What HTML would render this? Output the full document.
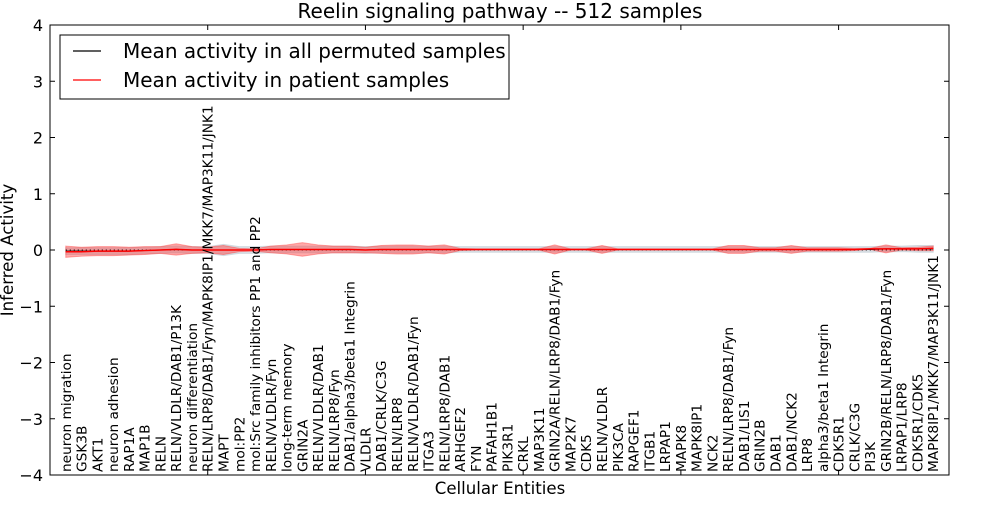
<!DOCTYPE html>
<html><head><meta charset="utf-8"><style>
body{margin:0;background:#fff;font-family:"Liberation Sans","DejaVu Sans",sans-serif}
</style></head><body>
<svg id="chart" width="1000" height="500" xmlns="http://www.w3.org/2000/svg" font-family="DejaVu Sans, Liberation Sans, sans-serif"></svg>
<script>
const categories=["neuron migration","GSK3B","AKT1","neuron adhesion","RAP1A","MAP1B","RELN","RELN/VLDLR/DAB1/P13K","neuron differentiation","RELN/LRP8/DAB1/Fyn/MAPK8IP1/MKK7/MAP3K11/JNK1","MAPT","mol:PP2","mol:Src family inhibitors PP1 and PP2","RELN/VLDLR/Fyn","long-term memory","GRIN2A","RELN/VLDLR/DAB1","RELN/LRP8/Fyn","DAB1/alpha3/beta1 Integrin","VLDLR","DAB1/CRLK/C3G","RELN/LRP8","RELN/VLDLR/DAB1/Fyn","ITGA3","RELN/LRP8/DAB1","ARHGEF2","FYN","PAFAH1B1","PIK3R1","CRKL","MAP3K11","GRIN2A/RELN/LRP8/DAB1/Fyn","MAP2K7","CDK5","RELN/VLDLR","PIK3CA","RAPGEF1","ITGB1","LRPAP1","MAPK8","MAPK8IP1","NCK2","RELN/LRP8/DAB1/Fyn","DAB1/LIS1","GRIN2B","DAB1","DAB1/NCK2","LRP8","alpha3/beta1 Integrin","CDK5R1","CRLK/C3G","PI3K","GRIN2B/RELN/LRP8/DAB1/Fyn","LRPAP1/LRP8","CDK5R1/CDK5","MAPK8IP1/MKK7/MAP3K11/JNK1"];
const patientMean=[-0.03,-0.03,-0.02,-0.02,-0.02,-0.01,0.0,0.01,0.0,0.0,0.0,0.0,0.0,0.01,0.01,0.01,0.01,0.01,0.01,0.0,0.01,0.01,0.01,0.01,0.01,0.01,0.01,0.01,0.01,0.01,0.01,0.01,0.01,0.01,0.01,0.01,0.01,0.01,0.01,0.01,0.01,0.01,0.01,0.01,0.01,0.01,0.01,0.01,0.01,0.01,0.01,0.02,0.02,0.02,0.02,0.03];
const patientSpread=[0.1,0.08,0.08,0.08,0.07,0.07,0.06,0.1,0.06,0.05,0.08,0.03,0.02,0.06,0.08,0.12,0.08,0.06,0.06,0.05,0.07,0.08,0.08,0.06,0.08,0.02,0.01,0.01,0.01,0.01,0.01,0.08,0.01,0.01,0.07,0.01,0.01,0.01,0.01,0.01,0.01,0.01,0.07,0.07,0.03,0.03,0.07,0.03,0.03,0.03,0.02,0.01,0.07,0.02,0.03,0.04];
const permMean=[-0.02,-0.02,-0.02,-0.02,-0.02,-0.01,0.0,0.01,0.0,0.0,0.0,0.0,0.0,0.01,0.01,0.01,0.01,0.01,0.01,0.0,0.01,0.01,0.01,0.01,0.01,0.01,0.01,0.01,0.01,0.01,0.01,0.01,0.01,0.01,0.01,0.01,0.01,0.01,0.01,0.01,0.01,0.01,0.01,0.01,0.01,0.01,0.01,0.01,0.01,0.01,0.01,0.01,0.02,0.02,0.02,0.02];
const permSpread=[0.06,0.06,0.06,0.06,0.06,0.06,0.06,0.06,0.06,0.06,0.1,0.06,0.06,0.06,0.06,0.06,0.06,0.06,0.06,0.06,0.06,0.06,0.06,0.06,0.06,0.05,0.05,0.05,0.05,0.05,0.05,0.05,0.05,0.05,0.05,0.05,0.05,0.05,0.05,0.05,0.05,0.05,0.05,0.05,0.05,0.05,0.05,0.05,0.05,0.05,0.05,0.05,0.05,0.05,0.06,0.06];
const yTicks=[4,3,2,1,0,-1,-2,-3,-4];

const NS="http://www.w3.org/2000/svg";
const svg=document.getElementById('chart');
const L=50,R=949,T=25,B=475;
const X=i=>L+(i+1)*(R-L)/57;
const Y=v=>T+(4-v)*(B-T)/8;
function mk(tag,attrs,parent){const e=document.createElementNS(NS,tag);for(const k in attrs)e.setAttribute(k,attrs[k]);(parent||svg).appendChild(e);return e;}

const title=mk('text',{x:500,y:18,'text-anchor':'middle','font-size':20});
title.textContent='Reelin signaling pathway -- 512 samples';



function band(mean,spread,fill,op,name){
  let pts=mean.map((m,i)=>X(i)+','+Y(m+spread[i]));
  for(let i=mean.length-1;i>=0;i--)pts.push(X(i)+','+Y(mean[i]-spread[i]));
  const p=mk('polygon',{points:pts.join(' '),fill:fill,'fill-opacity':op,stroke:fill,'stroke-opacity':op,'stroke-width':1});
  
  
}
band(permMean,permSpread,'#c0ccd4',0.6,'permuted-band');
band(patientMean,patientSpread,'#ff4040',0.45,'patient-band');

const zero=mk('line',{x1:X(0),x2:X(55),y1:Y(0),y2:Y(0),stroke:'#000','stroke-dasharray':'1,3','stroke-width':1});



const blk=mk('polyline',{points:permMean.map((m,i)=>X(i)+','+Y(m)).join(' '),fill:'none',stroke:'#000','stroke-width':1});


const red=mk('polyline',{points:patientMean.map((m,i)=>X(i)+','+Y(m)).join(' '),fill:'none',stroke:'#ff0000','stroke-width':1.5});



const frame=mk('rect',{x:L,y:T,width:R-L,height:B-T,fill:'none',stroke:'#000','stroke-width':1});



yTicks.forEach(v=>{
  mk('line',{x1:L,x2:L+5,y1:Y(v),y2:Y(v),stroke:'#000'});
  mk('line',{x1:R-5,x2:R,y1:Y(v),y2:Y(v),stroke:'#000'});
  const t=mk('text',{x:L-7,y:Y(v)+6,'text-anchor':'end','font-size':16});
  t.textContent=v<0?'\u2212'+(-v):String(v);
  
  
});
for(let k=10;k<57;k+=10){
  const x=L+k*(R-L)/57;
  mk('line',{x1:x,x2:x,y1:B,y2:B-5,stroke:'#000'});
  mk('line',{x1:x,x2:x,y1:T,y2:T+5,stroke:'#000'});
}
categories.forEach((c,i)=>{
  const x=X(i)+5;
  const t=mk('text',{x:x,y:472,transform:`rotate(-90 ${x} 472)`,'font-size':13.7});
  t.textContent=c;
  
  
});
const xl=mk('text',{x:500,y:494,'text-anchor':'middle','font-size':16.6});
xl.textContent='Cellular Entities';


const yl=mk('text',{x:13,y:250,'text-anchor':'middle','font-size':16.6,transform:'rotate(-90 13 250)'});
yl.textContent='Inferred Activity';



const lg=mk('g',{});


mk('rect',{x:60,y:35,width:449,height:64,fill:'#fff',stroke:'#000'},lg);
mk('line',{x1:73,x2:101,y1:51,y2:51,stroke:'#000','stroke-width':1.3},lg);
mk('line',{x1:73,x2:101,y1:80,y2:80,stroke:'#ff0000','stroke-width':1.3},lg);
const l1=mk('text',{x:123,y:58,'font-size':20},lg);
l1.textContent='Mean activity in all permuted samples';


const l2=mk('text',{x:123,y:87,'font-size':20},lg);
l2.textContent='Mean activity in patient samples';


</script>
</body></html>
